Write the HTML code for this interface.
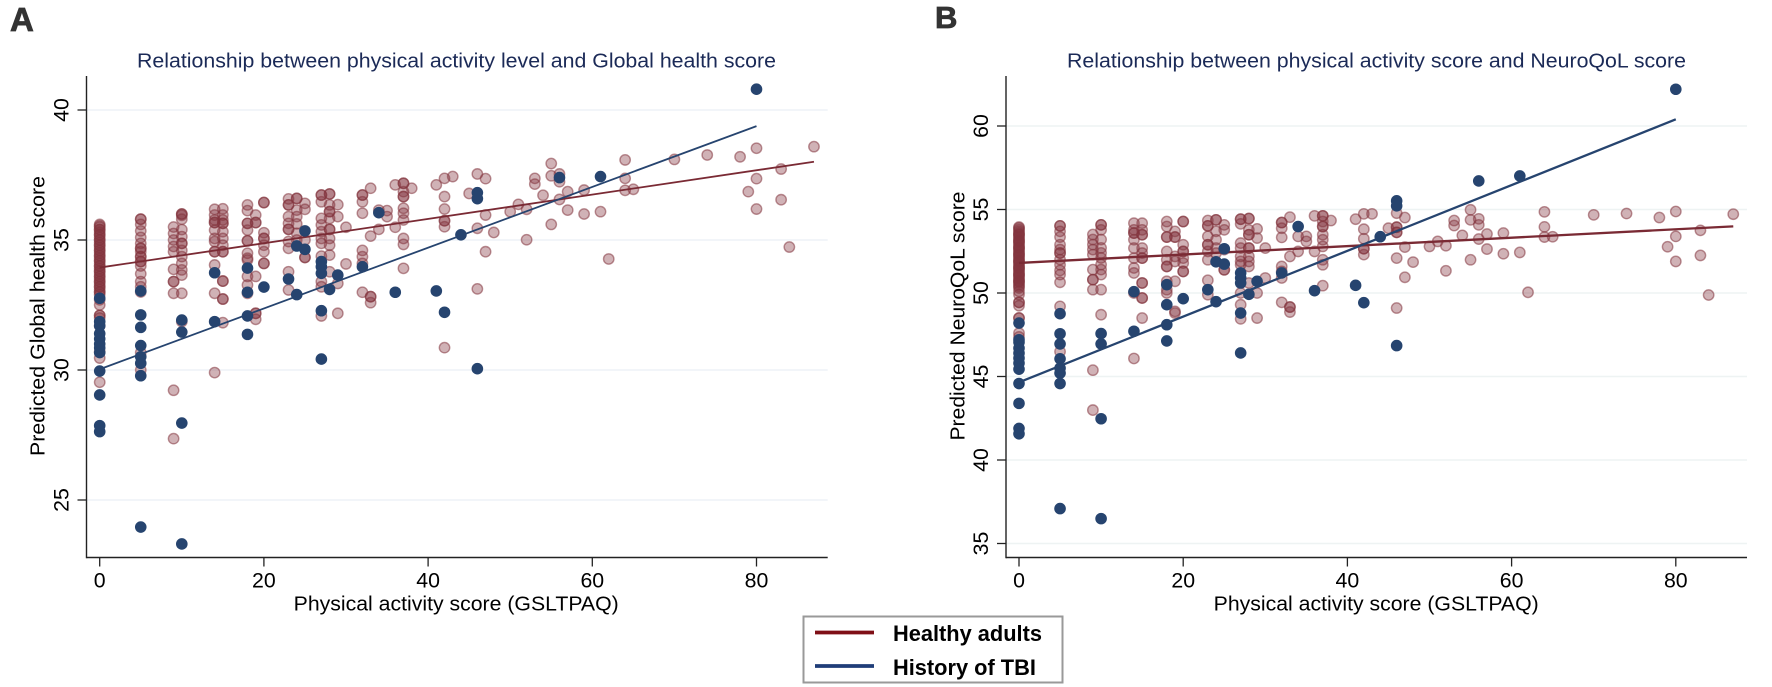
<!DOCTYPE html>
<html lang="en">
<head>
<meta charset="utf-8">
<title>Physical activity and predicted health scores</title>
<style>
html,body{margin:0;padding:0;background:#fff;width:1772px;height:687px;overflow:hidden}
svg{display:block;font-family:"Liberation Sans",Arial,sans-serif;filter:blur(.35px)}
</style>
</head>
<body>
<svg id="figure" xmlns="http://www.w3.org/2000/svg" width="1772" height="687" viewBox="0 0 1772 687">
  <rect x="0" y="0" width="1772" height="687" fill="#fff"/>
  <text x="10" y="31" font-size="33" font-weight="700" fill="#333" stroke="#333" stroke-width=".8">A</text>
  <text x="935" y="28" font-size="31" font-weight="700" fill="#333" stroke="#333" stroke-width=".8">B</text>
  <g id="panel-a"></g>
  <g id="panel-b"></g>
  <g>
    <rect x="803.5" y="616.5" width="259" height="66" fill="#fff" stroke="#999" stroke-width="2"/>
    <line x1="815" x2="874" y1="632.5" y2="632.5" stroke="#7f0f16" stroke-width="3.8"/>
    <text x="893" y="641" font-size="21.8" font-weight="700" fill="#000">Healthy adults</text>
    <line x1="815" x2="874" y1="666" y2="666" stroke="#1f3d78" stroke-width="3.8"/>
    <text x="893" y="675" font-size="21.8" font-weight="700" fill="#000">History of TBI</text>
  </g>
</svg>
<script>
/* Shared activity scores (x values) */
const healthyActivity = [0,5,9,10,14,15,18,19,20,23,24,25,27,28,29,30,32,33,34,35,36,37,38,41,42,43,45,46,47,48,50,51,52,53,54,55,56,57,59,61,62,64,65,70,74,78,79,80,83,84,87];
const tbiActivity = [0,5,10,14,18,20,23,24,25,27,28,29,32,34,36,41,42,44,46,56,61,80];

/* Panel A: predicted Global health score */
const healthyGlobal = [
[35.6,35.55,35.5,35.4,35.4,35.3,35.2,35.2,35.1,35.0,35.0,34.9,34.8,34.8,34.7,34.6,34.6,34.5,34.4,34.4,34.3,34.2,34.2,34.1,34.0,34.0,33.9,33.8,33.8,33.7,33.6,33.6,33.5,33.4,33.4,33.3,33.2,33.2,33.1,33.0,33.0,32.9,32.7,32.5,32.1,32.1,32.0,31.7,30.7,30.46,29.53],
[35.8,35.8,35.6,35.35,35.1,34.87,34.68,34.68,34.55,34.36,34.36,34.17,34.17,34.0,33.7,33.4,33.2,33.0,30.67,30.0],
[35.5,35.25,35.0,34.75,34.55,33.87,33.4,33.4,32.95,29.22,27.36],
[36.0,36.0,35.95,35.8,35.4,35.13,34.87,34.87,34.6,34.36,34.1,33.85,33.65,32.95,31.86],
[36.18,35.96,35.77,35.67,35.67,35.38,35.06,34.94,34.55,34.55,34.04,32.95,29.9],
[36.2,35.96,35.77,35.64,35.64,35.32,35.06,34.8,34.55,34.55,33.42,33.42,32.73,32.73,31.82],
[36.35,36.13,35.64,35.64,35.38,34.97,34.97,34.49,34.3,34.23,33.6,33.27,32.95],
[35.96,35.67,35.67,33.6,32.18,32.18,31.95],
[36.44,36.44,35.28,35.06,35.06,34.8,34.55,34.1,34.1],
[36.58,36.35,36.35,35.9,35.64,35.41,35.41,34.94,34.68,33.78,33.08],
[36.6,36.6,36.15,35.9,35.62,35.26,35.0],
[36.41,36.18,35.0,34.33,34.33],
[36.73,36.73,36.47,35.83,35.58,35.32,35.06,34.87,34.38,33.4,33.2,32.08],
[36.77,36.77,36.35,36.09,36.09,35.83,35.41,35.41,35.06,34.8,34.42,33.78],
[36.36,35.9,33.33,32.18],
[35.49,34.08],
[36.73,36.73,36.47,36.03,34.6,34.36,34.1,32.99],
[36.99,35.15,32.82,32.82,32.59],
[36.15,35.41],
[36.13,35.9],
[37.12,35.49],
[37.18,37.18,36.86,36.67,36.67,36.22,36.03,35.77,35.06,34.83,33.91],
[36.99],
[37.12],
[37.37,36.67,36.19,35.74,35.74,35.51,30.86],
[37.44],
[36.79],
[37.54,35.45,33.12],
[37.36,35.96,34.55],
[35.29],
[36.09],
[36.37],
[36.18,35.01],
[37.37,37.15],
[36.72],
[37.94,37.47,35.6],
[37.54,37.24,36.56],
[36.86,36.15],
[36.92,36.0],
[36.09],
[34.27],
[38.08,37.37,36.91],
[36.95],
[38.1],
[38.27],
[38.2],
[36.86],
[38.53,37.36,36.19],
[37.73,36.55],
[34.73],
[38.59]
];
const tbiGlobal = [
[32.76,31.86,31.7,31.4,31.2,31.0,30.85,30.67,29.96,29.04,27.86,27.63],
[33.04,32.12,31.64,30.94,30.51,30.26,29.78,23.96],
[31.92,31.46,27.96,23.31],
[33.74,31.86],
[33.92,32.99,32.08,31.37],
[33.19],
[33.5],
[34.77,32.9],
[35.35,34.64],
[34.17,33.97,33.72,32.28,30.42],
[33.1],
[33.65],
[33.97],
[36.05],
[32.99],
[33.04],
[32.22],
[35.2],
[36.82,36.59,30.05],
[37.4],
[37.44],
[40.8]
];

/* Panel B: predicted NeuroQoL score */
const healthyNeuro = [
[53.95,53.9,53.8,53.7,53.6,53.5,53.5,53.4,53.3,53.2,53.1,53.1,53.0,52.9,52.8,52.7,52.7,52.6,52.5,52.4,52.3,52.3,52.2,52.1,52.0,51.9,51.9,51.8,51.7,51.6,51.5,51.5,51.4,51.3,51.2,51.1,51.1,51.0,50.9,50.8,50.7,50.7,50.6,50.5,50.4,50.3,50.1,49.9,49.44,49.44,49.24,48.5,48.5,47.6,47.37],
[54.02,54.02,53.69,53.35,52.89,52.6,52.39,52.39,52.0,51.69,51.35,51.1,50.64,49.2,46.49],
[53.5,53.2,52.9,52.6,52.3,51.4,50.8,50.8,50.2,45.38,42.99],
[54.08,54.08,53.78,53.2,52.7,52.4,52.1,51.7,51.4,51.1,50.2,48.7],
[54.18,53.78,53.59,53.59,53.19,52.69,52.09,51.5,51.2,50.0,46.08],
[54.18,53.78,53.49,53.49,52.69,52.39,52.09,52.09,50.6,50.6,49.7,49.7,48.5],
[54.28,53.98,53.35,53.35,52.49,51.99,51.59,51.59,50.7,50.2,50.0],
[53.69,53.35,53.35,52.19,51.89,50.7,48.9,48.8],
[54.28,54.28,52.89,52.49,52.49,52.09,51.79,51.29,51.29],
[54.34,54.02,54.02,53.39,52.89,52.89,52.49,51.99,50.76,49.9],
[54.38,54.38,53.69,53.19,52.69,52.39],
[54.08,53.78,52.6,51.39,51.39],
[54.42,54.42,54.14,52.99,52.69,52.19,51.89,51.69,50.0,49.3,48.45],
[54.46,54.46,53.78,53.49,53.49,52.69,52.69,52.19,51.89,51.59,50.6],
[53.84,53.29,50.0,48.5],
[52.69,50.9],
[54.22,54.22,53.88,53.33,51.59,51.29,50.9,49.44],
[54.54,52.19,49.16,49.16,48.86],
[53.39,52.49],
[53.39,53.09],
[54.62,52.49],
[54.62,54.62,54.28,53.98,53.98,53.49,53.19,52.79,51.99,51.69,50.44],
[54.34],
[54.42],
[54.74,53.82,53.25,52.65,52.65,52.3],
[54.74],
[53.88],
[54.78,53.94,53.94,53.63,53.63,52.09,49.1],
[54.52,52.75,50.94],
[51.85],
[52.79],
[53.09],
[52.83,51.33],
[54.34,54.04],
[53.45],
[54.98,54.38,51.99],
[54.44,54.08,53.23],
[53.53,52.63],
[53.59,52.35],
[52.43],
[50.04],
[54.86,53.96,53.35],
[53.37],
[54.68],
[54.76],
[54.52],
[52.77],
[54.88,53.39,51.89],
[53.75,52.25],
[49.88],
[54.72]
];
const tbiNeuro = [
[48.2,47.2,47.05,46.7,46.4,46.1,45.8,45.44,44.58,43.39,41.89,41.57],
[48.76,47.56,46.95,46.06,45.5,45.2,44.58,37.09],
[47.57,46.95,42.47,36.49],
[50.08,47.71],
[50.5,49.3,48.1,47.13],
[49.66],
[50.2],
[51.87,49.48],
[52.65,51.73],
[51.2,50.9,50.6,48.8,46.41],
[49.92],
[50.7],
[51.2],
[53.98],
[50.14],
[50.46],
[49.42],
[53.37],
[55.52,55.22,46.85],
[56.71],
[57.01],
[62.2]
];

/* Fit lines: x endpoints and predicted values */
const healthyFitX = [0,87];
const tbiFitX = [0,80];
const healthyFitGlobal = [33.94,38.01];
const tbiFitGlobal = [30.03,39.38];
const healthyFitNeuro = [51.8,53.99];
const tbiFitNeuro = [44.65,60.4];

/* Tick labels */
const xTicks = [0,20,40,60,80];
const yTicksGlobal = [25,30,35,40];
const yTicksNeuro = [35,40,45,50,55,60];

const NS = 'http://www.w3.org/2000/svg';
function mk(parent, tag, attrs, txt){
  const el = document.createElementNS(NS, tag);
  for (const k in attrs) el.setAttribute(k, attrs[k]);
  if (txt !== undefined) el.textContent = txt;
  parent.appendChild(el);
  return el;
}
function drawPanel(cfg){
  const g = document.getElementById(cfg.id);
  const sx = v => cfg.x0 + (v - 0) * cfg.xUnit;
  const sy = v => cfg.yRef + (cfg.vRef - v) * cfg.yUnit;

  cfg.yTicks.forEach(t => {
    const grid = mk(g, 'line', {x1:cfg.left, x2:cfg.right, y1:sy(t), y2:sy(t), stroke:cfg.gridColor, 'stroke-width':1.6});
    
    
  });

  healthyActivity.forEach((x, i) => {
    cfg.healthy[i].forEach(v => {
      const c = mk(g, 'circle', {cx:sx(x), cy:sy(v), r:5.2, fill:'rgba(132,52,62,.38)', stroke:'rgba(132,52,62,.55)', 'stroke-width':1.4});
      
      
    });
  });

  const hLine = mk(g, 'line', {x1:sx(healthyFitX[0]), x2:sx(healthyFitX[1]), y1:sy(cfg.healthyFit[0]), y2:sy(cfg.healthyFit[1]), stroke:'#7a2a34', 'stroke-width':cfg.fitWidth});
  
  

  const tLine = mk(g, 'line', {x1:sx(tbiFitX[0]), x2:sx(tbiFitX[1]), y1:sy(cfg.tbiFit[0]), y2:sy(cfg.tbiFit[1]), stroke:'#26446f', 'stroke-width':cfg.fitWidth});
  
  

  tbiActivity.forEach((x, i) => {
    cfg.tbi[i].forEach(v => {
      const c = mk(g, 'circle', {cx:sx(x), cy:sy(v), r:5.8, fill:'#26446f'});
      
      
    });
  });

  const yAxis = mk(g, 'line', {x1:cfg.left, x2:cfg.left, y1:76, y2:558.2, stroke:'#222', 'stroke-width':1.4});
  
  
  const xAxis = mk(g, 'line', {x1:cfg.left, x2:cfg.right, y1:557.5, y2:557.5, stroke:'#222', 'stroke-width':1.4});
  
  

  xTicks.forEach(t => {
    const tick = mk(g, 'line', {x1:sx(t), x2:sx(t), y1:557.5, y2:566.5, stroke:'#222', 'stroke-width':1.3});
    
    
    const lab = mk(g, 'text', {x:sx(t), y:587.5, 'text-anchor':'middle', 'font-size':21.3, fill:'#000'}, String(t));
    
    
  });
  cfg.yTicks.forEach(t => {
    const tick = mk(g, 'line', {x1:cfg.left - 9, x2:cfg.left, y1:sy(t), y2:sy(t), stroke:'#222', 'stroke-width':1.3});
    
    
    const bx = cfg.left - 18;
    const lab = mk(g, 'text', {x:bx, y:sy(t), 'text-anchor':'middle', 'font-size':21.3, fill:'#000', transform:'rotate(-90 ' + bx + ' ' + sy(t) + ')'}, String(t));
    
    
  });

  const title = mk(g, 'text', {x:cfg.titleX, y:67.5, 'font-size':20.3, fill:'#1b2a57', textLength:cfg.titleLen, lengthAdjust:'spacingAndGlyphs'}, cfg.title);
  
  

  const xt = mk(g, 'text', {x:cfg.xTitleX, y:610.5, 'font-size':20.3, fill:'#000', textLength:325, lengthAdjust:'spacingAndGlyphs'}, 'Physical activity score (GSLTPAQ)');
  
  

  const yt = mk(g, 'text', {x:cfg.yTitleX, y:316, 'text-anchor':'middle', 'font-size':20.3, fill:'#000', textLength:cfg.yTitleLen, lengthAdjust:'spacingAndGlyphs', transform:'rotate(-90 ' + cfg.yTitleX + ' 316)'}, cfg.yTitle);
  
  
}

drawPanel({
  id:'panel-a', x0:99.7, xUnit:8.21, yRef:110, vRef:40, yUnit:26,
  left:86.5, right:827.7, gridColor:'#edf2f7', fitWidth:1.8,
  yTicks:yTicksGlobal, healthy:healthyGlobal, tbi:tbiGlobal,
  healthyFit:healthyFitGlobal, tbiFit:tbiFitGlobal,
  title:'Relationship between physical activity level and Global health score',
  titleX:137, titleLen:639, xTitleX:293.7,
  yTitle:'Predicted Global health score', yTitleX:44.7, yTitleLen:280
});
drawPanel({
  id:'panel-b', x0:1019, xUnit:8.21, yRef:126, vRef:60, yUnit:16.7,
  left:1006, right:1747, gridColor:'#eef3f3', fitWidth:2.3,
  yTicks:yTicksNeuro, healthy:healthyNeuro, tbi:tbiNeuro,
  healthyFit:healthyFitNeuro, tbiFit:tbiFitNeuro,
  title:'Relationship between physical activity score and NeuroQoL score',
  titleX:1067, titleLen:619, xTitleX:1213.7,
  yTitle:'Predicted NeuroQoL score', yTitleX:964.7, yTitleLen:249
});
</script>
</body>
</html>
